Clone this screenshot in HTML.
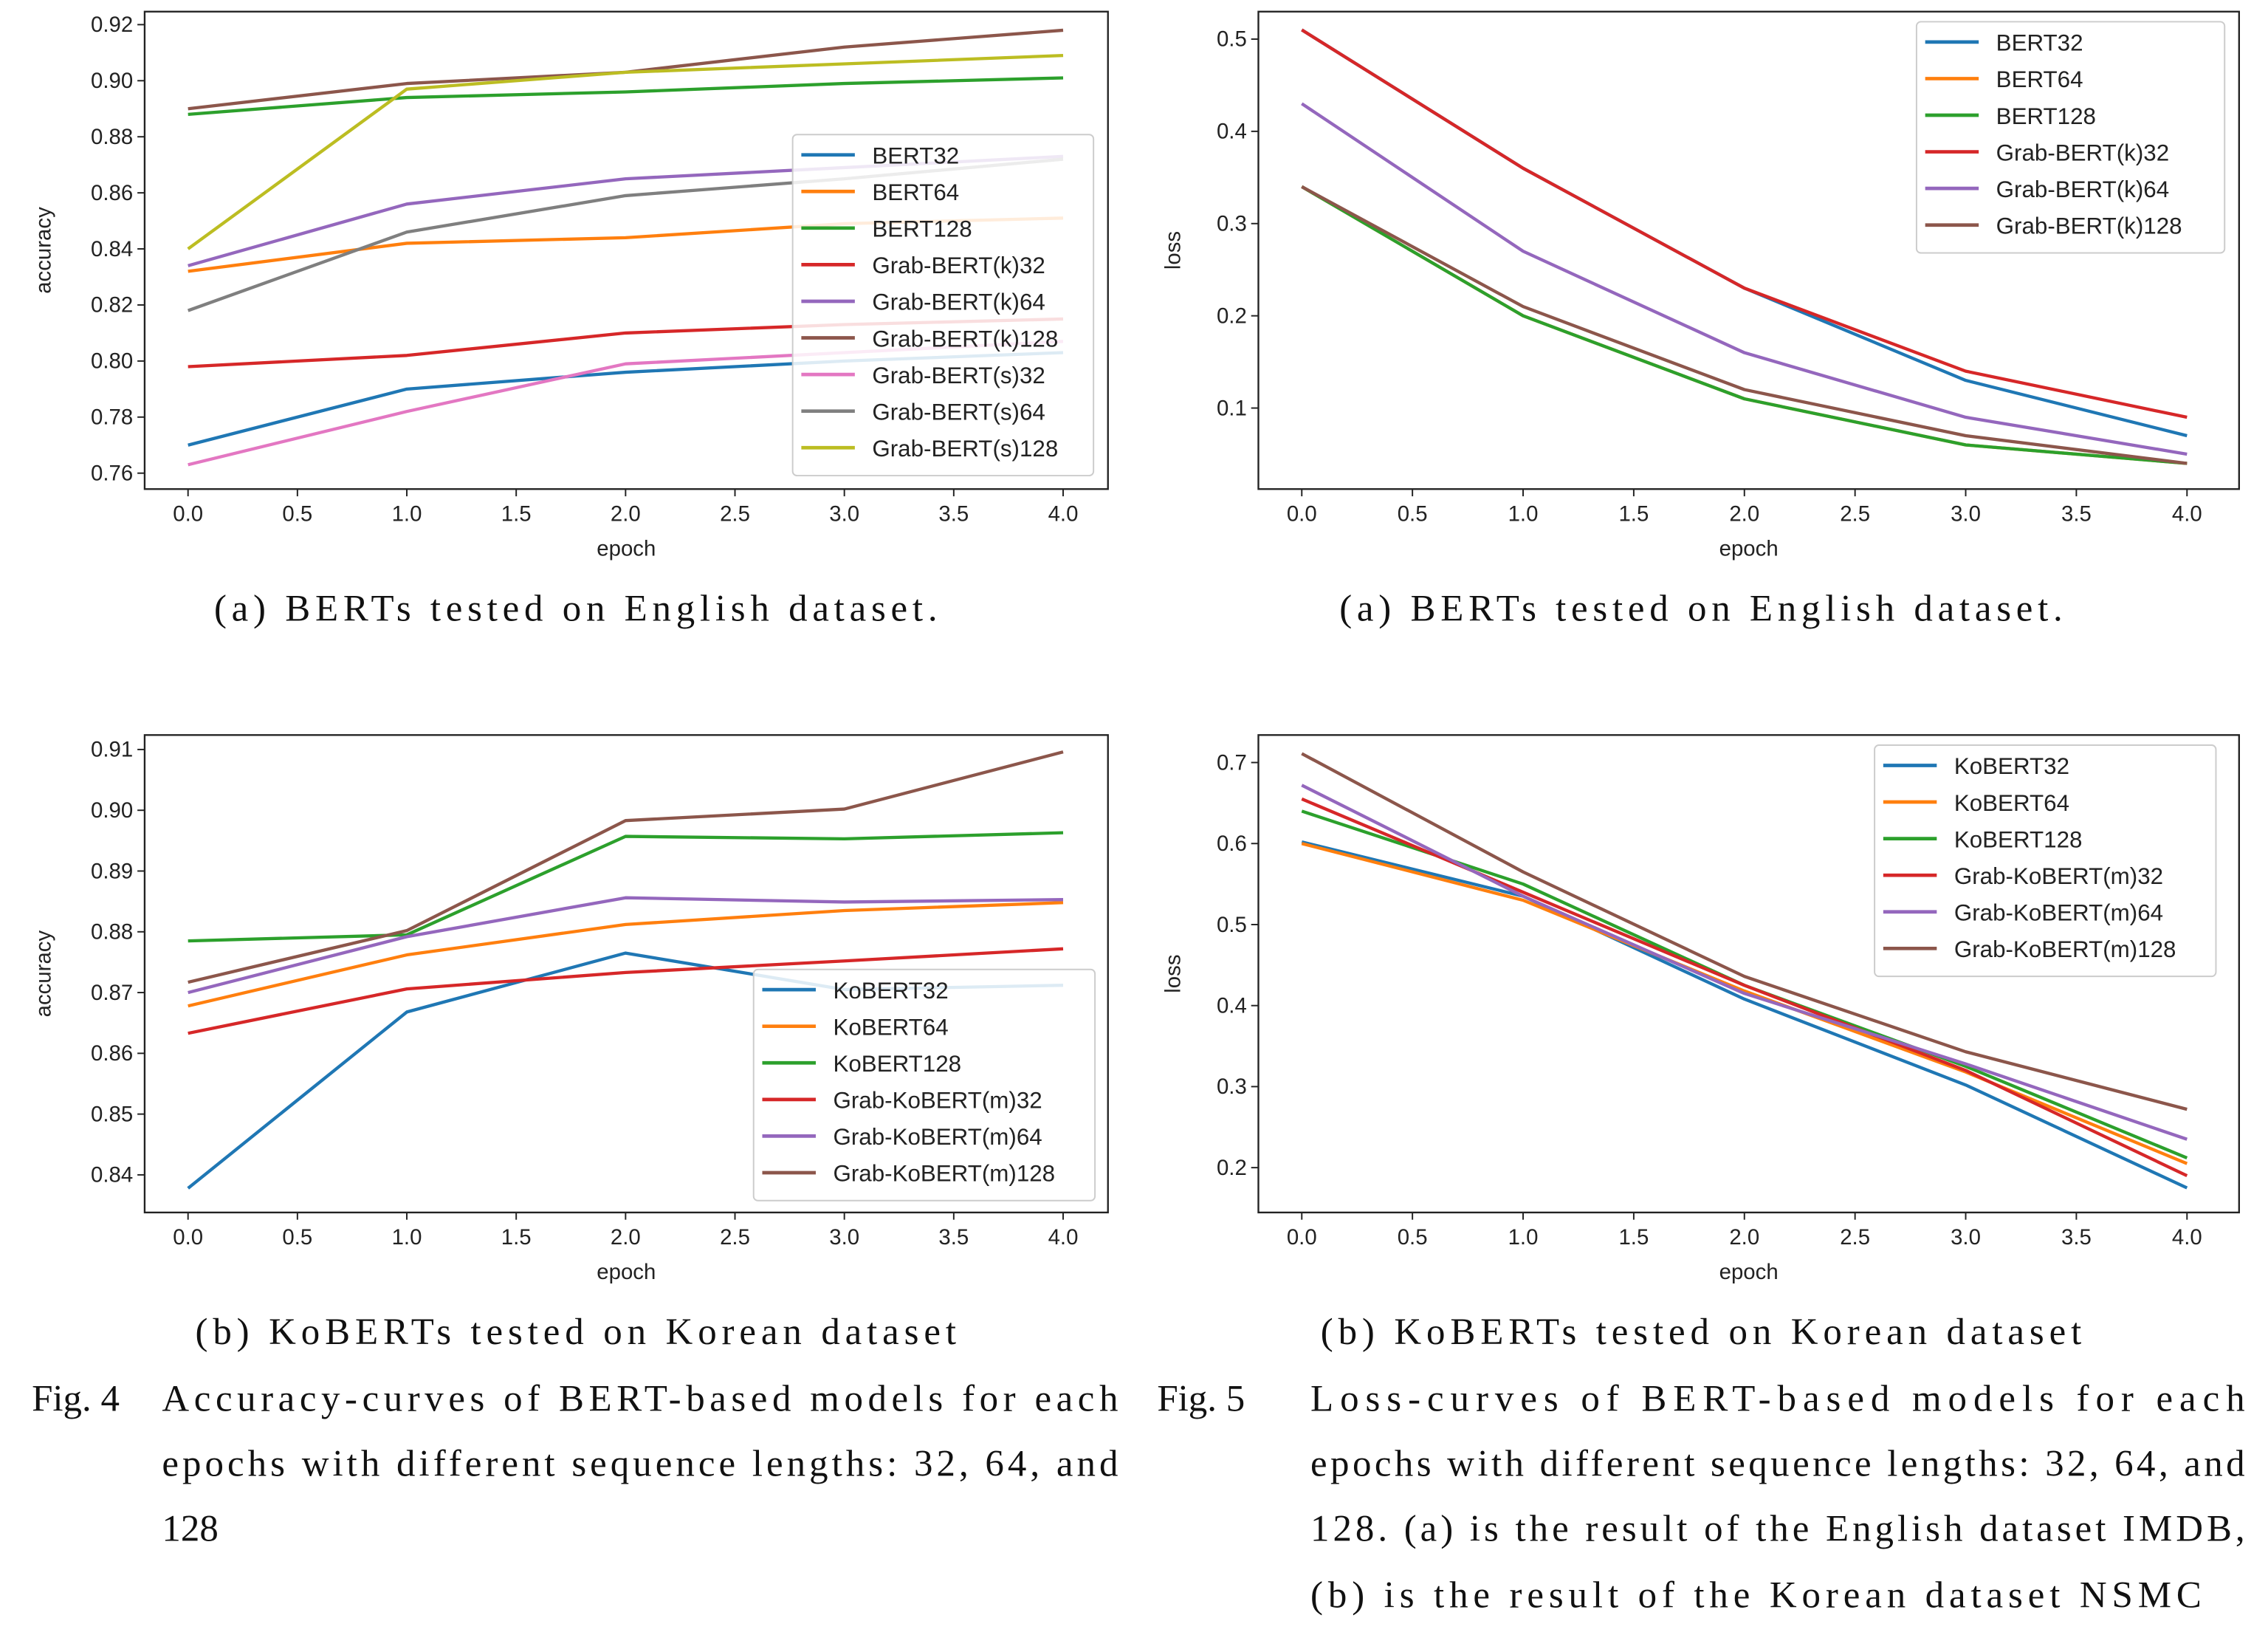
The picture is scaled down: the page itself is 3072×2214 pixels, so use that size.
<!DOCTYPE html>
<html><head><meta charset="utf-8">
<style>
html,body{margin:0;padding:0;background:#fff;}
svg{display:block;}
.tick{font-family:"Liberation Sans",sans-serif;font-size:15px;fill:#222;}
.lab{font-family:"Liberation Sans",sans-serif;font-size:15px;fill:#222;}
.leg{font-family:"Liberation Sans",sans-serif;font-size:16px;fill:#222;}
.cap{font-family:"Liberation Serif",serif;font-size:26px;fill:#111;}
</style></head>
<body>
<svg id="fig" width="3072" height="2214" viewBox="0 0 1568 1130" xmlns="http://www.w3.org/2000/svg">
<g id="charts"></g>
<text class="cap" x="398" y="429" text-anchor="middle" textLength="500">(a) BERTs tested on English dataset.</text>
<text class="cap" x="1176" y="429" text-anchor="middle" textLength="500">(a) BERTs tested on English dataset.</text>
<text class="cap" x="398" y="929" text-anchor="middle" textLength="526">(b) KoBERTs tested on Korean dataset</text>
<text class="cap" x="1176" y="929" text-anchor="middle" textLength="526">(b) KoBERTs tested on Korean dataset</text>
<g>
<text class="cap" x="22" y="975">Fig. 4</text>
<text class="cap" x="112" y="975" textLength="661">Accuracy-curves of BERT-based models for each</text>
<text class="cap" x="112" y="1020" textLength="661">epochs with different sequence lengths: 32, 64, and</text>
<text class="cap" x="112" y="1065">128</text>
</g>
<g>
<text class="cap" x="800" y="975">Fig. 5</text>
<text class="cap" x="906" y="975" textLength="646">Loss-curves of BERT-based models for each</text>
<text class="cap" x="906" y="1020" textLength="646">epochs with different sequence lengths: 32, 64, and</text>
<text class="cap" x="906" y="1065" textLength="646">128. (a) is the result of the English dataset IMDB,</text>
<text class="cap" x="906" y="1111" textLength="616">(b) is the result of the Korean dataset NSMC</text>
</g>
</svg>
<script>
const epochs=[0,1,2,3,4];
const xTicks=[0,0.5,1,1.5,2,2.5,3,3.5,4];
const xTickLabels=["0.0","0.5","1.0","1.5","2.0","2.5","3.0","3.5","4.0"];
const colors=["#1f77b4","#ff7f0e","#2ca02c","#d62728","#9467bd","#8c564b","#e377c2","#7f7f7f","#bcbd22"];

const accEnNames=["BERT32","BERT64","BERT128","Grab-BERT(k)32","Grab-BERT(k)64","Grab-BERT(k)128","Grab-BERT(s)32","Grab-BERT(s)64","Grab-BERT(s)128"];
const accEnBERT32=[0.770,0.790,0.796,0.800,0.803];
const accEnBERT64=[0.832,0.842,0.844,0.849,0.851];
const accEnBERT128=[0.888,0.894,0.896,0.899,0.901];
const accEnGk32=[0.798,0.802,0.810,0.813,0.815];
const accEnGk64=[0.834,0.856,0.865,0.869,0.873];
const accEnGk128=[0.890,0.899,0.903,0.912,0.918];
const accEnGs32=[0.763,0.782,0.799,0.803,0.807];
const accEnGs64=[0.818,0.846,0.859,0.865,0.872];
const accEnGs128=[0.840,0.897,0.903,0.906,0.909];
const accEnTicks=[0.76,0.78,0.80,0.82,0.84,0.86,0.88,0.90,0.92];

const lossEnNames=["BERT32","BERT64","BERT128","Grab-BERT(k)32","Grab-BERT(k)64","Grab-BERT(k)128"];
const lossEnBERT32=[0.51,0.36,0.23,0.13,0.07];
const lossEnBERT64=[0.34,0.20,0.11,0.06,0.04];
const lossEnBERT128=[0.34,0.20,0.11,0.06,0.04];
const lossEnGk32=[0.51,0.36,0.23,0.14,0.09];
const lossEnGk64=[0.43,0.27,0.16,0.09,0.05];
const lossEnGk128=[0.34,0.21,0.12,0.07,0.04];
const lossEnTicks=[0.1,0.2,0.3,0.4,0.5];

const accKoNames=["KoBERT32","KoBERT64","KoBERT128","Grab-KoBERT(m)32","Grab-KoBERT(m)64","Grab-KoBERT(m)128"];
const accKo32=[0.8378,0.8668,0.8765,0.8705,0.8712];
const accKo64=[0.8678,0.8762,0.8812,0.8835,0.8848];
const accKo128=[0.8785,0.8795,0.8957,0.8953,0.8963];
const accKoG32=[0.8633,0.8706,0.8733,0.8752,0.8772];
const accKoG64=[0.8700,0.8792,0.8856,0.8849,0.8853];
const accKoG128=[0.8717,0.8802,0.8983,0.9002,0.9096];
const accKoTicks=[0.84,0.85,0.86,0.87,0.88,0.89,0.90,0.91];

const lossKoNames=accKoNames;
const lossKo32=[0.602,0.535,0.408,0.302,0.175];
const lossKo64=[0.600,0.530,0.418,0.318,0.205];
const lossKo128=[0.640,0.550,0.425,0.325,0.212];
const lossKoG32=[0.655,0.540,0.425,0.320,0.190];
const lossKoG64=[0.672,0.535,0.415,0.328,0.235];
const lossKoG128=[0.711,0.565,0.436,0.343,0.272];
const lossKoTicks=[0.2,0.3,0.4,0.5,0.6,0.7];

const NS="http://www.w3.org/2000/svg";
const root=document.getElementById('charts');
function mk(tag,attrs,parent){const e=document.createElementNS(NS,tag);for(const k in attrs)e.setAttribute(k,attrs[k]);parent.appendChild(e);return e;}

function chart(o){
  const g=mk('g',{},root);
  
  
  const X=v=>o.x0+(v-0)*(o.x4-o.x0)/4;
  const Y=v=>o.ya+(v-o.va)*(o.yb-o.ya)/(o.vb-o.va);
  const fr=mk('rect',{x:o.L,y:o.T,width:o.R-o.L,height:o.B-o.T,fill:'none',stroke:'#222','stroke-width':1.2},g);
  
  
  xTicks.forEach((t,i)=>{
    mk('line',{x1:X(t),x2:X(t),y1:o.B,y2:o.B+5,stroke:'#222','stroke-width':1},g);
    const tx=mk('text',{x:X(t),y:o.B+22,'text-anchor':'middle',class:'tick'},g);
    tx.textContent=xTickLabels[i];
    
    
  });
  o.yTicks.forEach(t=>{
    mk('line',{x1:o.L-5,x2:o.L,y1:Y(t),y2:Y(t),stroke:'#222','stroke-width':1},g);
    const tx=mk('text',{x:o.L-8,y:Y(t)+5,'text-anchor':'end',class:'tick'},g);
    tx.textContent=t.toFixed(o.dec);
    
    
  });
  const xl=mk('text',{x:(o.L+o.R)/2,y:o.B+46,'text-anchor':'middle',class:'lab'},g);
  xl.textContent='epoch';
  
  
  const yx=o.L-o.ylabOff, yy=(o.T+o.B)/2;
  const yl=mk('text',{x:yx,y:yy,'text-anchor':'middle',class:'lab',transform:`rotate(-90 ${yx} ${yy})`},g);
  yl.textContent=o.ylab;
  
  
  o.series.forEach((s,i)=>{
    const p=mk('polyline',{points:epochs.map((e,j)=>X(e)+','+Y(s[j])).join(' '),fill:'none',stroke:colors[i],'stroke-width':2.2,'stroke-linejoin':'round'},g);
    
    
  });
  const lg=mk('g',{},g);
  
  
  mk('rect',{x:o.lx,y:o.ly,width:o.lw,height:o.names.length*25.3+8,rx:3,fill:'#fff','fill-opacity':0.85,stroke:'#ccc','stroke-width':1},lg);
  o.names.forEach((n,i)=>{
    const yy2=o.ly+14+i*25.3;
    const it=mk('g',{},lg);
    
    
    mk('line',{x1:o.lx+6,x2:o.lx+43,y1:yy2,y2:yy2,stroke:colors[i],'stroke-width':2.4},it);
    const t=mk('text',{x:o.lx+55,y:yy2+6,class:'leg'},it);
    t.textContent=n;
  });
}

chart({name:'accuracy-english-chart',L:100,R:766,T:8,B:338,x0:130,x4:735,va:0.92,ya:17,vb:0.76,yb:327,yTicks:accEnTicks,dec:2,ylab:'accuracy',ylabOff:65,
  series:[accEnBERT32,accEnBERT64,accEnBERT128,accEnGk32,accEnGk64,accEnGk128,accEnGs32,accEnGs64,accEnGs128],names:accEnNames,lx:548,ly:93,lw:208});
chart({name:'loss-english-chart',L:870,R:1548,T:8,B:338,x0:900,x4:1512,va:0.5,ya:27,vb:0.1,yb:282,yTicks:lossEnTicks,dec:1,ylab:'loss',ylabOff:54,
  series:[lossEnBERT32,lossEnBERT64,lossEnBERT128,lossEnGk32,lossEnGk64,lossEnGk128],names:lossEnNames,lx:1325,ly:15,lw:213});
chart({name:'accuracy-korean-chart',L:100,R:766,T:508,B:838,x0:130,x4:735,va:0.91,ya:518,vb:0.84,yb:812,yTicks:accKoTicks,dec:2,ylab:'accuracy',ylabOff:65,
  series:[accKo32,accKo64,accKo128,accKoG32,accKoG64,accKoG128],names:accKoNames,lx:521,ly:670,lw:236});
chart({name:'loss-korean-chart',L:870,R:1548,T:508,B:838,x0:900,x4:1512,va:0.7,ya:527,vb:0.2,yb:807,yTicks:lossKoTicks,dec:1,ylab:'loss',ylabOff:54,
  series:[lossKo32,lossKo64,lossKo128,lossKoG32,lossKoG64,lossKoG128],names:lossKoNames,lx:1296,ly:515,lw:236});
</script>
</body></html>
